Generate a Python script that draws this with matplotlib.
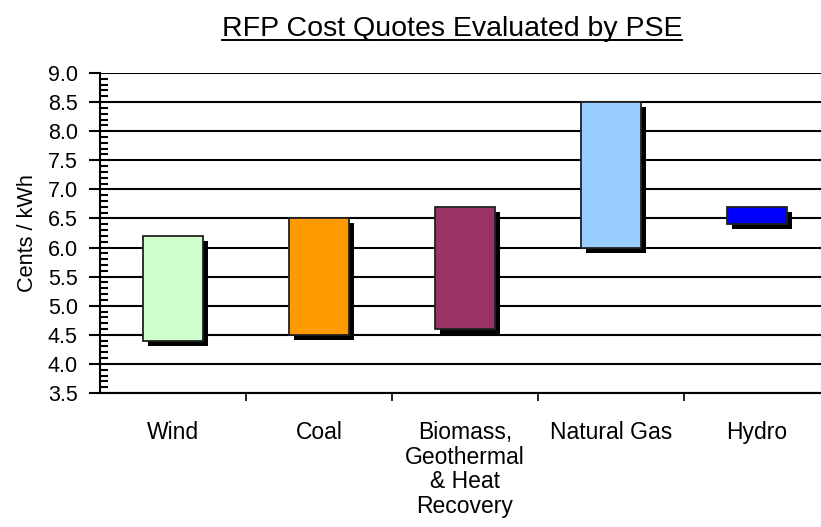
import matplotlib
matplotlib.use("Agg")
import matplotlib.pyplot as plt
import matplotlib.patheffects as pe
from matplotlib.lines import Line2D
from matplotlib.ticker import MultipleLocator

plt.rcParams['font.family'] = ['Liberation Sans', 'DejaVu Sans']

categorias = ["Wind", "Coal", "Biomass,\nGeothermal\n& Heat\nRecovery", "Natural Gas", "Hydro"]
bajo = [4.4, 4.5, 4.6, 6.0, 6.4]
alto = [6.2, 6.5, 6.7, 8.5, 6.7]
colores = ["#CCFFCC", "#FF9900", "#993366", "#99CCFF", "#0000FF"]

W, H = 821, 527
fig = plt.figure(figsize=(W / 100, H / 100), dpi=100)
ax = fig.add_axes([100 / W, 134 / H, 730 / W, 320 / H])

x = list(range(len(categorias)))
alturas = [a - b for a, b in zip(alto, bajo)]
sombra = [pe.SimplePatchShadow(offset=(3.6, -3.6), shadow_rgbFace='black', alpha=1.0), pe.Normal()]
barras = ax.bar(x, alturas, bottom=bajo, width=0.41, color=colores,
                edgecolor='#222222', linewidth=1.3, zorder=3)
for b in barras:
    b.set_path_effects(sombra)

ax.set_xlim(-0.5, 4.5)
ax.set_ylim(3.5, 9.0)
ax.yaxis.set_major_locator(MultipleLocator(0.5))
ax.yaxis.set_minor_locator(MultipleLocator(0.1))
ax.yaxis.set_major_formatter(matplotlib.ticker.FormatStrFormatter('%.1f'))
ax.grid(axis='y', which='major', color='black', linewidth=1.5, zorder=1)
ax.set_axisbelow(True)

ax.set_xticks([i + 0.5 for i in range(len(categorias) - 1)])
ax.set_xticklabels([])
ax.set_xticks(x, minor=True)
ax.set_xticklabels(categorias, minor=True, fontsize=16.5, linespacing=1.1, va='top')
ax.tick_params(axis='x', which='major', direction='out', length=6, width=1.2)
ax.tick_params(axis='x', which='minor', length=0, pad=20)
ax.tick_params(axis='y', which='major', direction='out', length=8, width=1.5, labelsize=15.5, pad=8)
ax.tick_params(axis='y', which='minor', direction='in', length=6, width=1.5)

for s in ['top', 'right']:
    ax.spines[s].set_visible(False)
ax.spines['left'].set_linewidth(1.5)
ax.spines['bottom'].set_linewidth(1.5)

ax.set_ylabel("Cents / kWh", fontsize=15.7, labelpad=7)

titulo = fig.text(452 / W, 1 - 36 / H, "RFP Cost Quotes Evaluated by PSE",
                  ha='center', va='baseline', fontsize=20.5)
fig.canvas.draw()
bb = titulo.get_window_extent().transformed(fig.transFigure.inverted())
yl = 1 - 39.5 / H
fig.add_artist(Line2D([bb.x0, bb.x1], [yl, yl], transform=fig.transFigure,
                      color='black', linewidth=1.4))

fig.savefig("out.png", dpi=100)
